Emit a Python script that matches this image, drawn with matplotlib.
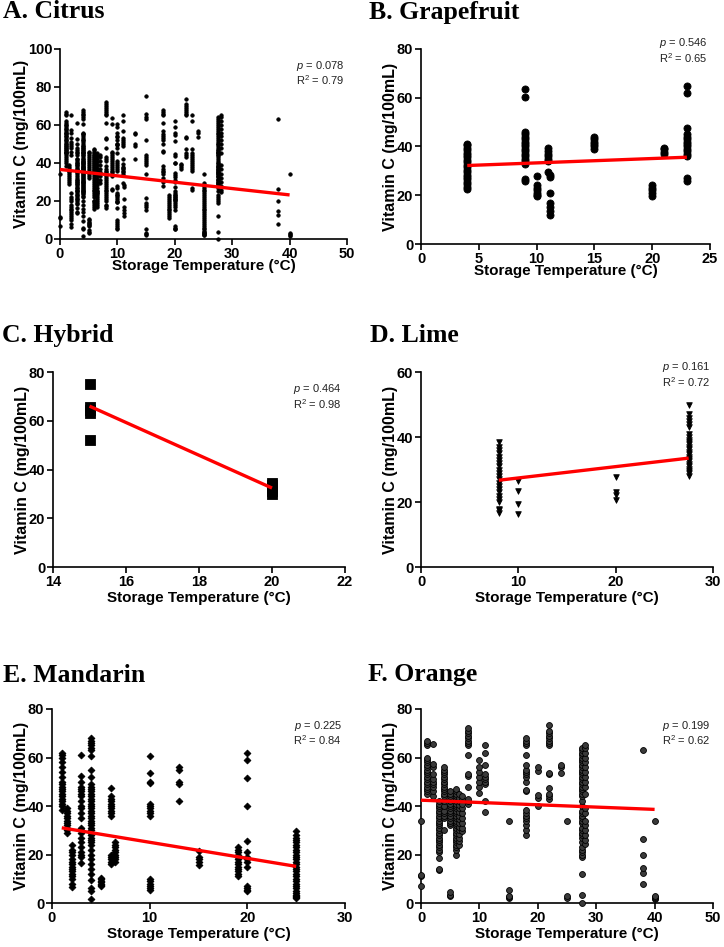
import matplotlib
matplotlib.use("Agg")
import matplotlib.pyplot as plt
import numpy as np

plt.rcParams['mathtext.fontset'] = 'custom'
plt.rcParams['mathtext.rm'] = 'Liberation Sans'
plt.rcParams['mathtext.it'] = 'Liberation Sans:italic'

# ---------------- data (temperature columns and Vitamin C values) ----------------
grapefruit_temp = [4, 9, 10, 11, 11.2, 15, 20, 21, 23]
grapefruit_vitc = [
    [22.5, 23.5, 24.5, 25.5, 26.5, 27.5, 28.5, 29.5, 30.5, 31.5, 32.5, 33.5, 34.5, 35.5, 36.5, 37.5, 38.5, 39.5, 40.5, 41],
    [26, 26.5, 33, 34, 35, 36, 37, 38, 39, 40, 41, 42, 43, 44, 45, 46, 60.5, 63.5],
    [19.5, 20, 21, 22, 23, 24, 28],
    [29.5, 34, 35, 36, 37, 38, 39.5],
    [12, 13.5, 15, 17, 21, 27.5, 28.5],
    [39, 40, 41, 42, 43, 44],
    [19.8, 21, 22, 23, 24.2],
    [36.8, 37.8, 38.8, 39.5],
    [26, 27, 36, 37, 38, 39, 40, 41, 42, 43, 44, 45, 47.5, 62, 65],
]
grapefruit_fit_x = [4, 23]
grapefruit_fit_y = [32.2, 35.6]

hybrid_temp = [15, 20]
hybrid_vitc = [
    [52.2, 63.2, 64.4, 65.6, 75.2],
    [30.0, 31.2, 32.4, 33.6, 34.6],
]
hybrid_fit_x = [15, 20]
hybrid_fit_y = [66.0, 32.4]

lime_temp = [8, 10, 20, 27.5]
lime_vitc = [
    [16.5, 17.5, 18, 20, 21, 22, 23, 24, 25, 26, 27, 28, 29, 30, 31, 32, 33, 34, 35, 36, 37, 38.5],
    [16.3, 19.3, 23.3, 26.6],
    [20.5, 22.3, 23.2, 27.6],
    [28, 28.8, 29.5, 30.2, 31, 31.8, 32.5, 33.2, 34, 34.8, 35.5, 36.2, 37, 37.8, 38.5, 39.2, 40, 41, 43, 44, 45, 46, 47, 50],
]
lime_fit_x = [8, 27.5]
lime_fit_y = [26.7, 33.5]

mandarin_temp = [1, 1.5, 2, 3, 4, 5, 6, 6.5, 10, 13, 15, 19, 20, 25]
mandarin_vitc = [
    [38.5, 40, 41, 42, 43, 44, 45, 46, 47, 48, 49, 50, 52, 54, 56, 58, 60, 61, 62],
    [29, 30, 31, 32, 33, 34, 35, 36, 37, 38, 39],
    [6.5, 8, 10, 11, 12, 13, 14, 15, 16, 17, 18, 20, 21, 22, 24],
    [16.5, 19, 20, 21, 23, 25, 27, 29, 30, 31, 35, 37, 39, 40, 42, 44, 45, 46, 47, 48, 50, 52.5, 61],
    [1.5, 5, 6, 9.5, 12, 14, 16, 18, 20, 22, 24, 25, 26, 27, 28, 29, 30, 31, 32, 33, 34, 35, 36, 37, 38,
     39, 40, 41, 42, 43, 44, 45, 46, 47, 48, 49, 52, 55, 60.5, 63, 64, 65, 66, 67, 68],
    [7, 7.5, 8, 8.5, 9, 10, 10.5],
    [16, 17, 18, 19, 20, 36, 37, 38, 39, 40, 41, 42, 43, 44, 47.5],
    [17, 18, 19, 20, 21, 22, 23, 24, 25],
    [5.5, 6, 7, 8, 9, 10, 36, 37, 38, 39, 40, 41, 49.5, 50, 53.5, 60.5],
    [42, 49, 50, 55, 56],
    [15.5, 17, 18, 19, 21.5],
    [11, 12, 13, 14, 15, 16, 17, 18, 19, 20, 21, 22, 23],
    [5, 5.5, 6, 7, 15, 17, 18, 19, 21, 25.5, 40, 51.5, 59, 62],
    [2, 2.5, 3, 3.5, 4, 5, 6, 7, 8, 9, 10, 11, 12, 13, 14, 15, 16, 17, 18, 19, 20, 21, 22, 23, 24, 25,
     26, 27, 28, 29.5],
]
mandarin_fit_x = [1, 25]
mandarin_fit_y = [31.0, 15.1]

orange_temp = [0, 1, 2, 3, 4, 5, 6, 6.5, 7, 8, 10, 11, 15, 18, 20, 22, 24, 25, 27.5, 28, 38, 40]
orange_vitc = [
    [7, 11, 11.5, 34],
    [45, 46, 47, 48, 49, 50, 51, 52, 53, 54, 55, 56, 57, 58, 59, 60, 65, 66, 67],
    [44, 46, 48, 49, 50, 51, 53, 56, 57.5, 65.5],
    [13.5, 14, 18.5, 21, 22, 23, 24, 25, 26, 27, 28, 29, 30, 31, 32, 33, 34, 35, 36, 37, 38, 39, 40, 41, 42],
    [30, 35, 36, 37, 38, 40, 42, 44, 45, 46, 47, 48, 49, 50, 51, 52, 53, 54, 55, 56],
    [3, 3.5, 4.5, 32, 33, 34, 35, 36, 37, 38, 39, 40, 41, 42, 43, 44, 45, 46],
    [20, 22, 23, 24, 25, 26, 27, 28, 29, 30, 31, 32, 33, 34, 35, 36, 37, 38, 39, 40, 41, 42, 43, 44, 45, 46, 47],
    [24, 25.5, 27, 28.5, 30, 31.5, 33, 34.5, 36, 37.5, 39, 40.5, 42, 43.5, 45],
    [29.5, 31, 33, 35, 37, 39, 41, 43, 44],
    [41, 42, 43, 48, 52.5, 53, 61, 65, 66, 67, 68, 69, 70, 71, 72],
    [45.5, 48, 50, 52, 54, 56, 59],
    [37.5, 42, 49, 50, 51, 52, 53, 57, 62, 65],
    [2, 2.5, 3, 5.5, 34],
    [28, 30, 32, 34, 35, 36, 37, 38.5, 46, 46.5, 50, 52, 53, 54, 55, 57, 61, 65, 66, 67, 68],
    [40, 43.5, 44.5, 54.5, 56],
    [43, 44, 45, 47.5, 53, 53.5, 65, 66, 67, 68, 69, 70, 71, 73.5],
    [53.5, 56, 57],
    [2, 3, 34],
    [0, 3.5, 12, 19, 20, 21, 22, 23, 25, 27, 28, 29, 30, 31, 33, 34, 35, 36, 37, 38, 40, 42, 44, 45, 46,
     47, 48, 49, 50, 51, 52, 53, 54, 55, 56, 57, 58, 59, 60, 61, 62, 63, 64],
    [24.5, 26, 28, 30, 32, 34, 37, 39, 45, 48, 50, 52, 54, 56, 58, 60, 62, 64, 65],
    [8, 12.5, 14.5, 20, 26.5, 63],
    [1.5, 2, 2.5, 3, 34],
]
orange_fit_x = [0, 40]
orange_fit_y = [42.4, 38.6]

citrus_fit_x = [0, 40]
citrus_fit_y = [36.6, 23.2]

stats_p = ["0.078", "0.546", "0.464", "0.161", "0.225", "0.199"]
stats_r2 = ["0.79", "0.65", "0.98", "0.72", "0.84", "0.62"]
titles = ["A. Citrus", "B. Grapefruit", "C. Hybrid", "D. Lime", "E. Mandarin", "F. Orange"]


def flatten(temps, vals):
    xs, ys = [], []
    for t, v in zip(temps, vals):
        xs.extend([t] * len(v))
        ys.extend(v)
    return np.array(xs, float), np.array(ys, float)


gx, gy = flatten(grapefruit_temp, grapefruit_vitc)
hx, hy = flatten(hybrid_temp, hybrid_vitc)
lx, ly = flatten(lime_temp, lime_vitc)
mx, my = flatten(mandarin_temp, mandarin_vitc)
ox, oy = flatten(orange_temp, orange_vitc)
cx = np.concatenate([gx, hx, lx, mx, ox])
cy = np.concatenate([gy, hy, ly, my, oy])

W, H = 724, 947
fig = plt.figure(figsize=(W / 100, H / 100), dpi=100)


def add_ax(l, r, t, b):
    return fig.add_axes([l / W, 1 - b / H, (r - l) / W, (b - t) / H])


panels = [
    dict(box=(60, 347, 49, 239), x=cx, y=cy, fx=citrus_fit_x, fy=citrus_fit_y, xlim=(0, 50), xt=[0, 10, 20, 30, 40, 50],
         ylim=(0, 100), yt=[0, 20, 40, 60, 80, 100], marker='o', s=6, fc='black', ty=(0.91, 0.837), xpad=-1),
    dict(box=(421, 710, 49, 244), x=gx, y=gy, fx=grapefruit_fit_x, fy=grapefruit_fit_y, xlim=(0, 25), xt=[0, 5, 10, 15, 20, 25],
         ylim=(0, 80), yt=[0, 20, 40, 60, 80], marker='o', s=26, fc='black', ty=(1.03, 0.954), xpad=-1),
    dict(box=(53, 345, 372, 567), x=hx, y=hy, fx=hybrid_fit_x, fy=hybrid_fit_y, xlim=(14, 22), xt=[14, 16, 18, 20, 22],
         ylim=(0, 80), yt=[0, 20, 40, 60, 80], marker='s', s=42, fc='black', ty=(0.913, 0.836), xpad=2),
    dict(box=(421, 713, 372, 567), x=lx, y=ly, fx=lime_fit_x, fy=lime_fit_y, xlim=(0, 30), xt=[0, 10, 20, 30],
         ylim=(0, 60), yt=[0, 20, 40, 60], marker='v', s=16, fc='black', ty=(1.026, 0.95), xpad=2),
    dict(box=(52, 345, 709, 903), x=mx, y=my, fx=mandarin_fit_x, fy=mandarin_fit_y, xlim=(0, 30), xt=[0, 10, 20, 30],
         ylim=(0, 80), yt=[0, 20, 40, 60, 80], marker='D', s=12, fc='black', ty=(0.912, 0.84), xpad=2),
    dict(box=(421, 713, 709, 903), x=ox, y=oy, fx=orange_fit_x, fy=orange_fit_y, xlim=(0, 50), xt=[0, 10, 20, 30, 40, 50],
         ylim=(0, 80), yt=[0, 20, 40, 60, 80], marker='o', s=18, fc='#3a3a3a', ty=(0.912, 0.84), xpad=2),
]

title_pos = [(3, 12), (369, 12), (2, 335), (370, 335), (3, 675), (368, 675)]

for i, p in enumerate(panels):
    ax = add_ax(*p['box'])
    ax.scatter(p['x'], p['y'], marker=p['marker'], s=p['s'], facecolor=p['fc'], edgecolor='black',
               linewidths=0.6, zorder=3, clip_on=False)
    ax.plot(p['fx'], p['fy'], color='#ff0000', lw=2.4, zorder=4, solid_capstyle='butt')
    ax.set_xlim(*p['xlim'])
    ax.set_ylim(*p['ylim'])
    ax.set_xticks(p['xt'])
    ax.set_yticks(p['yt'])
    for s in ['top', 'right']:
        ax.spines[s].set_visible(False)
    for s in ['left', 'bottom']:
        ax.spines[s].set_linewidth(1.2)
    ax.tick_params(direction='out', length=4, width=1.2, pad=1.5)
    for lab in ax.get_xticklabels() + ax.get_yticklabels():
        lab.set_fontfamily('Liberation Sans')
        lab.set_fontweight('bold')
        lab.set_fontsize(10.5)
    ax.set_ylabel('Vitamin C (mg/100mL)', fontfamily='Liberation Sans', fontweight='bold', fontsize=11.5, labelpad=-1)
    ax.set_xlabel('Storage Temperature (°C)', fontfamily='Liberation Sans', fontweight='bold', fontsize=11,
                  labelpad=p['xpad'])
    ax.text(0.99, p['ty'][0], r'$p$ = ' + stats_p[i], transform=ax.transAxes, ha='right', va='center',
            fontsize=8, fontfamily='Liberation Sans', color='#222222')
    ax.text(0.99, p['ty'][1], r'R$^2$ = ' + stats_r2[i], transform=ax.transAxes, ha='right', va='center',
            fontsize=8, fontfamily='Liberation Sans', color='#222222')
    tx, ty = title_pos[i]
    fig.text(tx / W, 1 - ty / H, titles[i], ha='left', va='center', fontfamily='Liberation Serif',
             fontweight='bold', fontsize=18.5)

fig.savefig('out.png', dpi=100)
